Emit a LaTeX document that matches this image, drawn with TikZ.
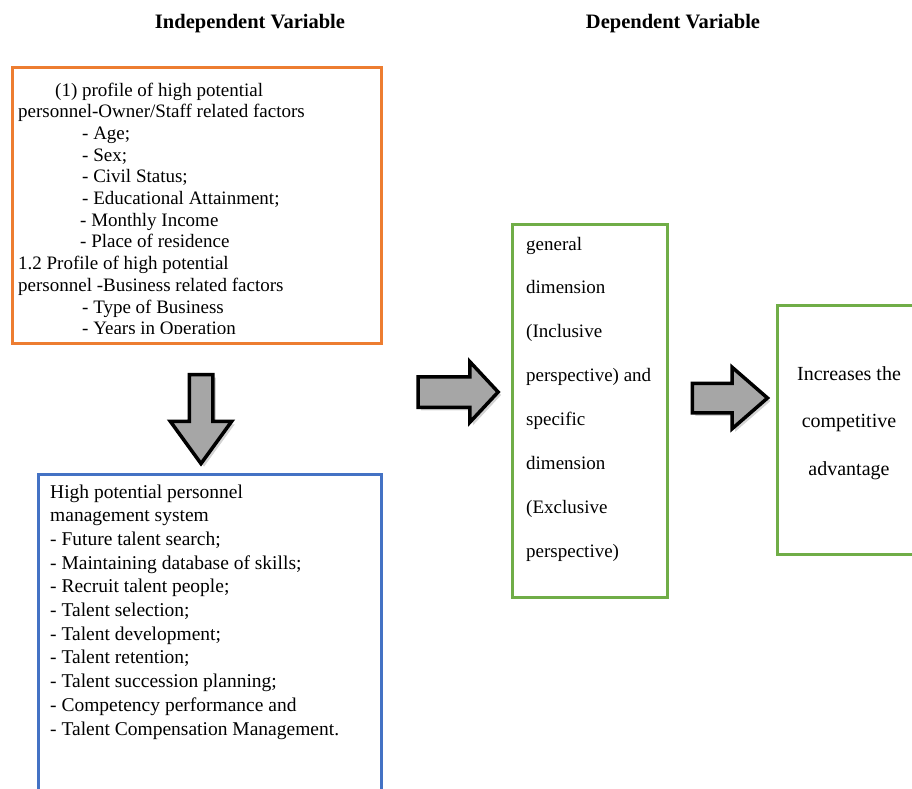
\documentclass[tikz,border=0pt]{standalone}
\usepackage{fontspec}
\setmainfont{Liberation Serif}
\usetikzlibrary{shapes.arrows,shadows}

\definecolor{bxorange}{RGB}{237,125,49}
\definecolor{bxblue}{RGB}{68,114,196}
\definecolor{bxgreen}{RGB}{112,173,71}
\definecolor{arrgray}{RGB}{166,166,166}

\tikzset{
  varbox/.style={line width=3pt, outer sep=0pt, inner sep=0pt, anchor=north west},
  bodytxt/.style={align=left, inner sep=0pt, anchor=base west},
  headtxt/.style={font=\fontsize{20.5}{24}\selectfont\bfseries, inner sep=0pt, anchor=base},
  blockarrow/.style={single arrow, draw=black, fill=arrgray, line width=3.5pt, outer sep=0pt,
    drop shadow={shadow xshift=3pt, shadow yshift=-3pt, opacity=0.35}}
}

\begin{document}
\begin{tikzpicture}[x=1pt, y=-1pt]
  \clip (0,0) rectangle (912,788);

  % headings
  \node[headtxt] (indep) at (250,28) {Independent Variable};
  \node[headtxt] (dep) at (673,28) {Dependent Variable};

  % boxes
  \node[varbox, draw=bxorange, minimum width=369pt, minimum height=276pt] (prof) at (12.5,67.5) {};
  \node[varbox, draw=bxblue, minimum width=343pt, minimum height=340pt] (hpms) at (38,474) {};
  \node[varbox, draw=bxgreen, minimum width=155pt, minimum height=373pt] (gdim) at (512.5,224.5) {};
  \node[varbox, draw=bxgreen, minimum width=160pt, minimum height=249pt] (compadv) at (777,305.5) {};

  % text of the profile box, cut off at its lower edge (anchored at last line)
  \begin{scope}
    \clip (14,69) rectangle (380,333);
    \node[bodytxt, font=\fontsize{19}{21.7}\selectfont] (proftxt) at (18,334.7)
      {\hspace*{37pt}(1) profile of high potential\\
       personnel-Owner/Staff related factors\\
       \hspace*{64pt}- Age;\\
       \hspace*{64pt}- Sex;\\
       \hspace*{64pt}- Civil Status;\\
       \hspace*{64pt}- Educational Attainment;\\
       \hspace*{62pt}- Monthly Income\\
       \hspace*{62pt}- Place of residence\\
       1.2 Profile of high potential\\
       personnel -Business related factors\\
       \hspace*{64pt}- Type of Business\\
       \hspace*{64pt}- Years in Operation};
  \end{scope}

  \node[bodytxt, font=\fontsize{19.5}{23.7}\selectfont] (hpmstxt) at (50,735)
    {High potential personnel\\
     management system\\
     - Future talent search;\\
     - Maintaining database of skills;\\
     - Recruit talent people;\\
     - Talent selection;\\
     - Talent development;\\
     - Talent retention;\\
     - Talent succession planning;\\
     - Competency performance and\\
     - Talent Compensation Management.};

  \node[bodytxt, font=\fontsize{19}{43.9}\selectfont] (gdimtxt) at (526,557.3)
    {general\\
     dimension\\
     (Inclusive\\
     perspective) and\\
     specific\\
     dimension\\
     (Exclusive\\
     perspective)};

  \node[bodytxt, align=center, anchor=base, font=\fontsize{20}{47.5}\selectfont] (compadvtxt) at (849,475)
    {Increases the\\
     competitive\\
     advantage};

  % block arrows
  \node[blockarrow, shape border rotate=270, minimum height=89pt, inner sep=10pt,
    single arrow head extend=19pt, single arrow tip angle=72] (a1) at (201,411) {};
  \node[blockarrow, minimum height=80pt, inner sep=13.5pt,
    single arrow head extend=15pt, single arrow tip angle=94] (a2) at (451,392) {};
  \node[blockarrow, minimum height=75pt, inner sep=13pt,
    single arrow head extend=16pt, single arrow tip angle=82] (a3) at (721.5,398) {};
\end{tikzpicture}
\end{document}
